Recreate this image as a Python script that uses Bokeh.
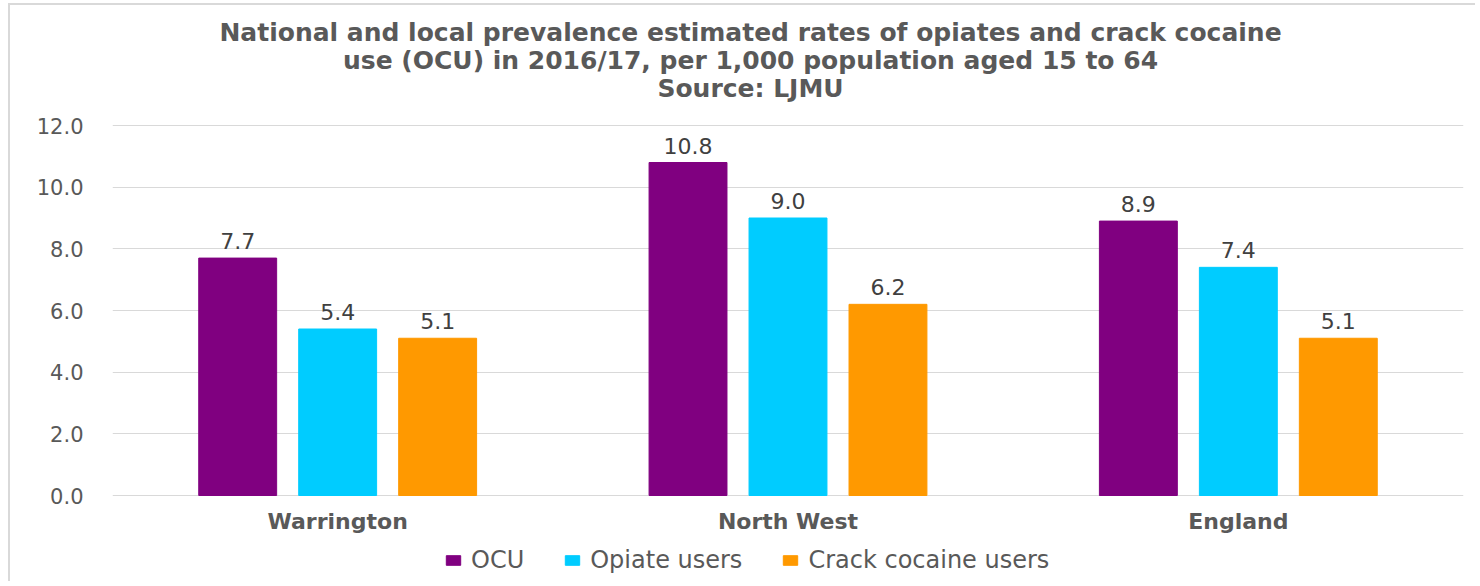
from bokeh.plotting import figure
from bokeh.models import (ColumnDataSource, FactorRange, Legend, LegendItem, Label, LabelSet,
                          NumeralTickFormatter, Range1d)
from bokeh.core.properties import value
from bokeh.transform import dodge
from bokeh.embed import file_html
from bokeh.resources import INLINE

categories = ["Warrington", "North West", "England"]
series_names = ["OCU", "Opiate users", "Crack cocaine users"]
ocu = [7.7, 10.8, 8.9]
opiate = [5.4, 9.0, 7.4]
crack = [5.1, 6.2, 5.1]
colors = ["#800080", "#00CCFF", "#FF9900"]
y_ticks = [0, 2, 4, 6, 8, 10, 12]
title_lines = [
    "National and local prevalence estimated rates of opiates and crack cocaine",
    "use (OCU) in 2016/17, per 1,000 population aged 15 to 64",
    "Source: LJMU",
]

src = ColumnDataSource(dict(cat=categories, ocu=ocu, opiate=opiate, crack=crack,
                            ocu_t=[f"{v:.1f}" for v in ocu],
                            opiate_t=[f"{v:.1f}" for v in opiate],
                            crack_t=[f"{v:.1f}" for v in crack],
                            zero=[0] * len(categories)))

# layout: the frame spans the whole canvas height; the value axis 0..12 occupies
# 370 px of it, leaving room above for the title and below for labels and legend
FW, FH = 1351, 576
PX_PER_UNIT = 370 / 12
y_top = 12 + 120 / PX_PER_UNIT
y_bottom = -86 / PX_PER_UNIT

p = figure(frame_width=FW, frame_height=FH, x_range=FactorRange(*categories, range_padding=0),
           y_range=Range1d(y_bottom, y_top), output_backend="svg", toolbar_location=None,
           min_border_left=102, min_border_right=12, min_border_top=0, min_border_bottom=0,
           styles={"border-left": "2px solid #D9D9D9", "border-top": "2px solid #D9D9D9",
                   "margin-left": "8px", "margin-top": "3px"})
p.title = None

for i, line in enumerate(title_lines):
    p.add_layout(Label(x=638, y=FH - 27 - 28 * i, x_units="screen", y_units="screen",
                       text=line, text_align="center", text_baseline="middle",
                       text_font="DejaVu Sans", text_font_style="bold",
                       text_font_size="25px", text_color="#595959"))

offsets = [-0.222, 0.0, 0.222]
keys = ["ocu", "opiate", "crack"]
renderers = []
for k, off, col in zip(keys, offsets, colors):
    r = p.vbar(x=dodge("cat", off, range=p.x_range), top=k, bottom=0, width=0.173, source=src,
               fill_color=col, line_color=col)
    renderers.append(r)
    p.add_layout(LabelSet(x=dodge("cat", off, range=p.x_range), y=k, text=k + "_t", source=src,
                          y_offset=9, text_align="center", text_baseline="bottom",
                          text_font=value("DejaVu Sans"), text_font_size=value("22px"),
                          text_color="#404040"))

# category labels under the baseline
p.add_layout(LabelSet(x="cat", y="zero", text="cat", source=src, y_offset=-26,
                      text_align="center", text_baseline="middle",
                      text_font=value("DejaVu Sans"), text_font_style="bold",
                      text_font_size=value("22px"), text_color="#595959"))

p.xaxis.visible = False
p.xgrid.grid_line_color = None
p.ygrid.grid_line_color = "#D9D9D9"
p.ygrid.grid_line_width = 1
p.yaxis.ticker = y_ticks
p.yaxis.formatter = NumeralTickFormatter(format="0.0")
p.yaxis.axis_line_color = None
p.yaxis.major_tick_line_color = None
p.yaxis.minor_tick_line_color = None
p.yaxis.major_tick_out = 0
p.yaxis.major_tick_in = 0
p.yaxis.major_label_standoff = 29
p.yaxis.major_label_text_font = "DejaVu Sans"
p.yaxis.major_label_text_font_size = "21px"
p.yaxis.major_label_text_color = "#595959"

p.outline_line_color = None

legend = Legend(items=[LegendItem(label=n, renderers=[r]) for n, r in zip(series_names, renderers)],
                orientation="horizontal", location=(332, 7),
                label_text_font="DejaVu Sans", label_text_font_size="24px",
                label_text_color="#595959", glyph_width=18, glyph_height=12,
                spacing=39, label_standoff=9, padding=0, margin=0,
                border_line_color=None, background_fill_alpha=0)
p.add_layout(legend, "center")

open("out.html", "w").write(file_html(p, INLINE))
